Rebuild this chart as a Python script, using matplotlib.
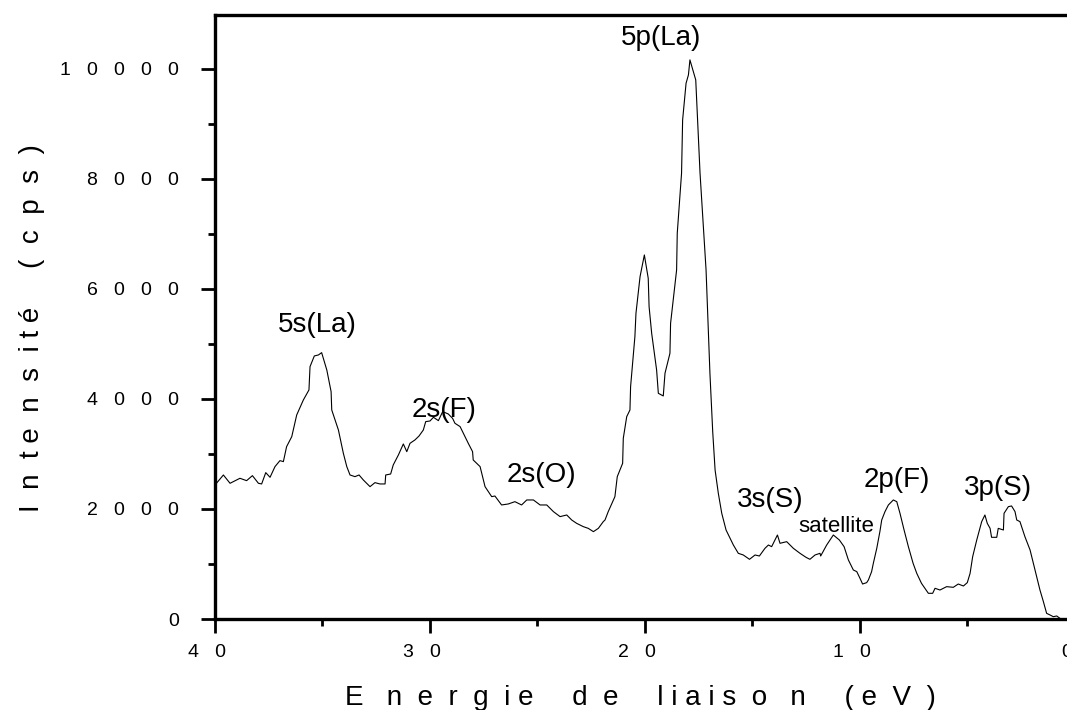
import matplotlib
matplotlib.use("Agg")
import matplotlib.pyplot as plt
from matplotlib.transforms import ScaledTranslation

plt.rcParams['font.family'] = ['Liberation Sans', 'DejaVu Sans']

# spectre (energie de liaison en eV, intensite en cps)
energie = [40.0, 39.61, 39.30, 38.84, 38.53, 38.26, 37.98, 37.83, 37.64, 37.44,
           37.21, 36.98, 36.82, 36.67, 36.43, 36.20, 35.89, 35.63, 35.58, 35.38,
           35.19, 35.04, 34.80, 34.60, 34.57, 34.26, 34.03, 33.87, 33.72, 33.49,
           33.30, 33.10, 32.79, 32.56, 32.33, 32.09, 32.06, 31.83, 31.71, 31.47,
           31.24, 31.08, 30.93, 30.70, 30.51, 30.31, 30.20, 30.00, 29.84, 29.77,
           29.61, 29.41, 29.15, 28.95, 28.84, 28.60, 28.45, 28.22, 28.02, 27.99,
           27.67, 27.44, 27.13, 26.98, 26.67, 26.36, 26.05, 25.74, 25.50, 25.19,
           24.88, 24.57, 24.26, 23.95, 23.64, 23.41, 23.18, 22.87, 22.64, 22.40,
           22.17, 21.94, 21.86, 21.71, 21.40, 21.29, 21.04, 21.01, 20.85, 20.70,
           20.67, 20.47, 20.42, 20.23, 20.03, 19.85, 19.81, 19.69, 19.46, 19.38,
           19.15, 19.07, 18.84, 18.81, 18.53, 18.50, 18.30, 18.25, 18.09, 17.98,
           17.91, 17.64, 17.44, 17.16, 16.98, 16.85, 16.74, 16.59, 16.43, 16.23,
           15.89, 15.66, 15.43, 15.14, 14.88, 14.68, 14.42, 14.26, 14.11, 13.84,
           13.72, 13.41, 13.10, 12.79, 12.51, 12.33, 12.09, 11.86, 11.83, 11.55,
           11.24, 10.96, 10.74, 10.54, 10.31, 10.15, 10.00, 9.88, 9.69, 9.61,
           9.46, 9.38, 9.22, 9.07, 8.99, 8.84, 8.68, 8.45, 8.29, 8.14,
           7.95, 7.75, 7.53, 7.36, 7.14, 6.98, 6.82, 6.62, 6.51, 6.28,
           5.97, 5.66, 5.43, 5.19, 5.01, 4.88, 4.76, 4.57, 4.34, 4.19,
           4.08, 3.95, 3.88, 3.64, 3.57, 3.33, 3.30, 3.10, 2.95, 2.79,
           2.71, 2.56, 2.33, 2.09, 1.86, 1.63, 1.47, 1.32, 1.16, 1.01,
           0.85, 0.70]
intensite = [2436, 2618, 2467, 2558, 2515, 2606, 2467, 2455, 2661, 2576,
             2770, 2879, 2861, 3133, 3315, 3709, 3982, 4164, 4588, 4782,
             4800, 4842, 4527, 4133, 3800, 3436, 3012, 2770, 2618, 2588,
             2618, 2527, 2406, 2479, 2455, 2455, 2618, 2636, 2800, 2982,
             3182, 3042, 3194, 3255, 3327, 3436, 3588, 3600, 3667, 3648,
             3606, 3770, 3727, 3648, 3558, 3497, 3376, 3194, 3042, 2891,
             2770, 2406, 2224, 2236, 2073, 2091, 2133, 2073, 2164, 2164,
             2073, 2073, 1952, 1861, 1891, 1800, 1739, 1679, 1648, 1588,
             1648, 1770, 1800, 1952, 2224, 2588, 2830, 3285, 3679, 3800,
             4224, 5133, 5558, 6224, 6618, 6194, 5679, 5194, 4527, 4103,
             4055, 4467, 4830, 5376, 6345, 7012, 8103, 9073, 9739, 9891,
             10164, 9800, 8103, 6345, 4467, 3400, 2709, 2285, 1921, 1618,
             1345, 1194, 1164, 1085, 1164, 1145, 1285, 1345, 1315, 1527,
             1376, 1406, 1285, 1194, 1121, 1085, 1164, 1194, 1145, 1345,
             1527, 1436, 1315, 1073, 891, 861, 739, 636, 661, 709,
             861, 1012, 1285, 1600, 1800, 1950, 2073, 2164, 2133, 1921,
             1618, 1315, 1012, 830, 648, 558, 467, 467, 558, 527,
             588, 576, 636, 600, 661, 830, 1133, 1436, 1770, 1891,
             1739, 1648, 1485, 1485, 1648, 1618, 1921, 2042, 2055, 1952,
             1800, 1770, 1497, 1255, 891, 527, 315, 103, 73, 42,
             55, 12]

# etiquettes des pics
pics = ["5s(La)", "2s(F)", "2s(O)", "5p(La)", "3s(S)", "satellite", "2p(F)", "3p(S)"]
pics_x = [35.25, 29.35, 24.84, 19.26, 14.19, 11.12, 8.28, 3.58]
pics_y = [5345, 3800, 2618, 10564, 2164, 1673, 2527, 2382]

x_ticks = [40, 30, 20, 10, 0]
x_labels = ["4   0", "3   0", "2   0", "1   0", "0"]
y_ticks = [0, 2000, 4000, 6000, 8000, 10000]
y_labels = ["0", "2   0   0   0", "4   0   0   0", "6   0   0   0",
            "8   0   0   0", "1   0   0   0   0"]

fig = plt.figure(figsize=(10.67, 7.10), dpi=100)
ax = fig.add_axes([215/1067, 91/710, 860/1067, 604/710])

ax.plot(energie, intensite, color='black', lw=0.8)

for txt, xx, yy in zip(pics, pics_x, pics_y):
    fs = 16 if txt == "satellite" else 20
    ax.text(xx, yy, txt, fontsize=fs, ha='center', va='center')

ax.set_xlim(40, 0)
ax.set_ylim(0, 10980)

ax.set_xticks(x_ticks)
ax.set_xticklabels(x_labels)
ax.set_xticks(range(35, 0, -10), minor=True)
ax.set_yticks(y_ticks)
ax.set_yticklabels(y_labels)
ax.set_yticks(range(1000, 11000, 2000), minor=True)

ax.spines['right'].set_visible(False)
for s in ['left', 'bottom', 'top']:
    ax.spines[s].set_linewidth(2.4)

ax.tick_params(axis='both', which='major', direction='out', length=10, width=2,
               labelsize=14)
ax.tick_params(axis='y', which='major', pad=16)
ax.tick_params(axis='x', which='major', pad=8)
ax.tick_params(axis='both', which='minor', direction='out', length=5, width=2)

# les etiquettes de l'axe x sont un peu decalees a gauche dans l'original
decal = ScaledTranslation(-0.08, 0, fig.dpi_scale_trans)
for lbl in ax.get_xticklabels():
    lbl.set_transform(lbl.get_transform() + decal)

fig.text(640/1067, 5/710,
         "E   n  e  r  g  i e     d  e     l i a i s  o   n     ( e  V  )",
         fontsize=20, ha='center', va='baseline')
fig.text(32/1067, 1 - 328/710, "I  n  t e  n  s  i t é     (  c  p  s  )",
         fontsize=20, ha='center', va='center', rotation=90)

fig.savefig("out.png", dpi=100)
